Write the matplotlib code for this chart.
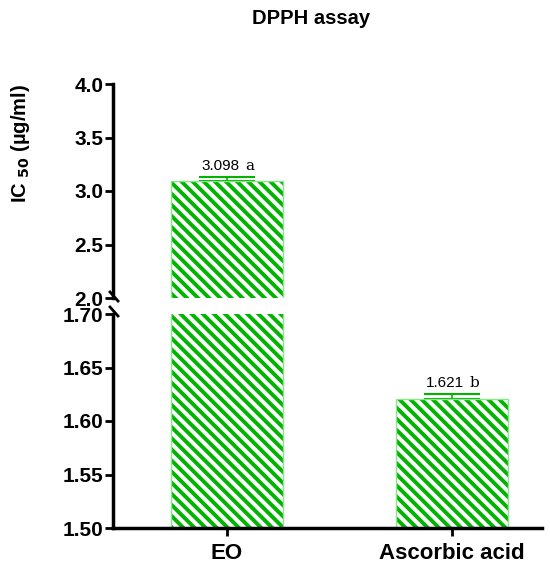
import matplotlib
matplotlib.use("Agg")
import matplotlib.pyplot as plt

# data
categories = ["EO", "Ascorbic acid"]
values = [3.098, 1.621]
errors = [0.03, 0.004]
letters = ["a", "b"]

plt.rcParams['font.family'] = ['Liberation Sans', 'DejaVu Sans']
plt.rcParams['hatch.linewidth'] = 2.8

fig = plt.figure(figsize=(5.5, 5.68), dpi=100)
W, H = 550.0, 568.0
left = 113 / W
width = (542 - 113) / W
ax_top = fig.add_axes([left, 1 - 298 / H, width, (298 - 84) / H])
ax_bot = fig.add_axes([left, 1 - 528 / H, width, (528 - 314) / H])

x = list(range(len(categories)))
for ax in (ax_top, ax_bot):
    # hatch uses edgecolor, so draw hatch and outline separately
    ax.bar(x, values, width=0.5, color='white', edgecolor='#00b400',
           hatch='\\\\\\', linewidth=0, zorder=2)
    ax.bar(x, values, width=0.5, fill=False, edgecolor='#8be68b',
           linewidth=1.0, zorder=2)
    ax.errorbar(x, values, yerr=[[0, 0], errors], fmt='none', ecolor='#00b400',
                elinewidth=1.2, capsize=20.5, capthick=1.5, zorder=1)
    ax.set_xlim(-0.507, 1.4)
    for s in ['top', 'right']:
        ax.spines[s].set_visible(False)
    ax.spines['left'].set_linewidth(2.5)
    ax.spines['bottom'].set_linewidth(2.5)
    ax.tick_params(axis='y', width=2, length=6, labelsize=15, pad=1)

ax_top.set_ylim(2.0, 4.0)
ax_top.set_yticks([2.0, 2.5, 3.0, 3.5, 4.0])
ax_top.set_yticklabels(['2.0', '2.5', '3.0', '3.5', '4.0'], fontweight='bold')
ax_top.spines['bottom'].set_visible(False)
ax_top.set_xticks([])

ax_bot.set_ylim(1.5, 1.7)
ax_bot.set_yticks([1.50, 1.55, 1.60, 1.65, 1.70])
ax_bot.set_yticklabels(['1.50', '1.55', '1.60', '1.65', '1.70'], fontweight='bold')
ax_bot.set_xticks(x)
ax_bot.set_xticklabels(categories, fontweight='bold', fontsize=16)
ax_bot.tick_params(axis='x', width=2, length=6, pad=5)

# value labels: number in sans, letter in serif
for ax, i in ((ax_top, 0), (ax_bot, 1)):
    top = values[i] + errors[i]
    ax.annotate("%.3f" % values[i], (x[i], top), xytext=(-5, 3),
                textcoords='offset points', ha='center', va='bottom', fontsize=11)
    ax.annotate(letters[i], (x[i], top), xytext=(16, 3),
                textcoords='offset points', ha='center', va='bottom', fontsize=11,
                family='DejaVu Serif')

# break marks
for yy in (292, 307):
    fig.add_artist(plt.Line2D([110 / W, 118 / W], [1 - yy / H, 1 - (yy + 9) / H],
                              color='black', lw=2))

fig.text(311 / W, 1 - 19 / H, "DPPH assay", ha='center', va='center',
         fontsize=14.5, fontweight='bold')
fig.text(21 / W, 1 - 143 / H, r"IC $_{\mathbf{50}}$ (µg/ml)", rotation=90,
         ha='center', va='center', fontsize=14.5, fontweight='bold')

fig.savefig("out.png", dpi=100)
